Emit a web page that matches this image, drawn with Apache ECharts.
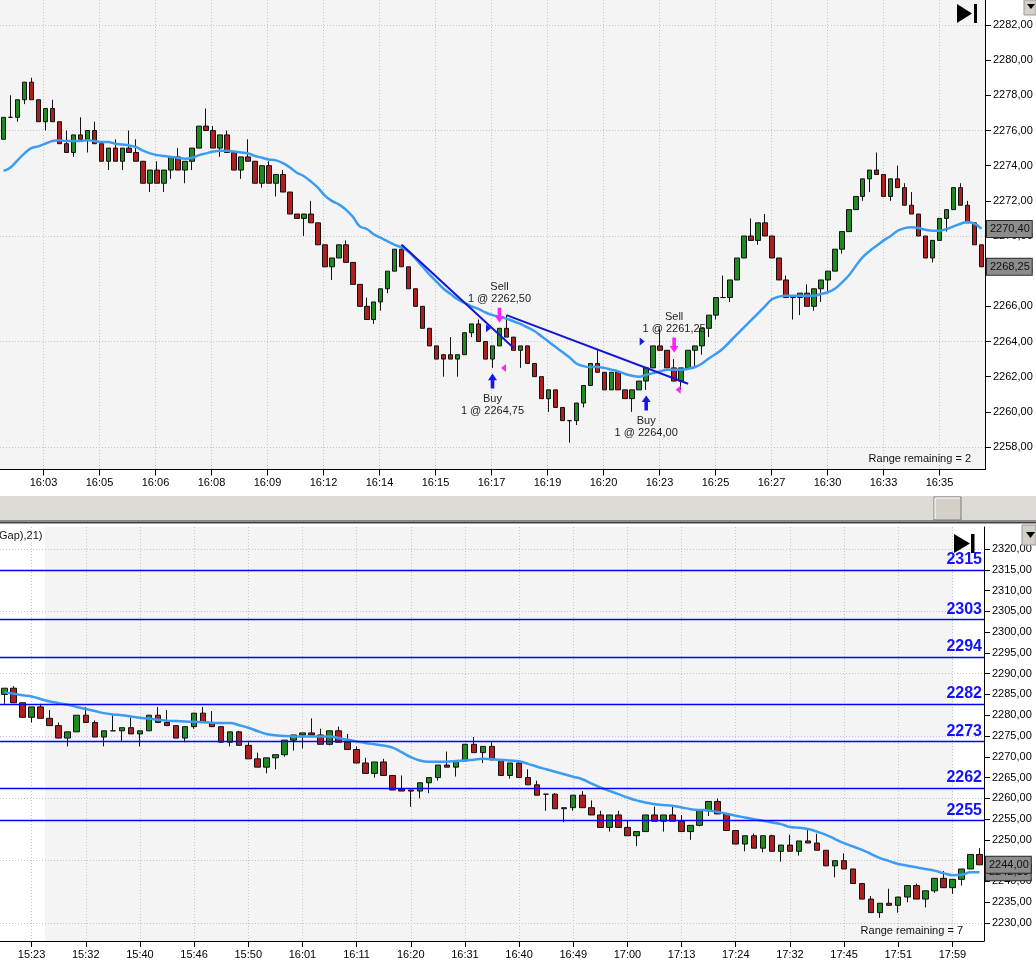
<!DOCTYPE html>
<html>
<head>
<meta charset="utf-8">
<script src="https://cdn.jsdelivr.net/npm/echarts@6/dist/echarts.min.js"></script>
<style>
  html, body { margin: 0; padding: 0; background: #fff; }
  #chart { width: 1036px; height: 965px; }
</style>
</head>
<body>
<div id="chart"></div>
<script>
// ---- upper chart: range bars, [open, close, low, high]
const topOHLC = [
  [2275.5,2276.75,2275.5,2276.75],[2276.75,2276.75,2276.75,2278],[2276.75,2277.75,2276.5,2277.75],[2277.75,2278.75,2277.5,2278.75],
  [2278.75,2277.75,2277.75,2279],[2277.75,2276.5,2276.5,2277.75],[2276.5,2277.25,2276,2277.25],[2277.25,2276.5,2276.5,2277.75],
  [2276.5,2275.25,2275.25,2276.5],[2275.25,2274.75,2274.75,2276],[2274.75,2275.75,2274.5,2275.75],[2275.75,2275.5,2275.5,2276.75],
  [2275.5,2276,2274.75,2276],[2276,2275.25,2275.25,2276.5],[2275.25,2274.25,2274.25,2275.25],[2274.25,2275,2273.75,2275],
  [2275,2274.25,2274.25,2275.5],[2274.25,2275,2273.75,2275],[2275,2274.75,2274.75,2276],[2274.75,2274.25,2274.25,2275.5],
  [2274.25,2273,2273,2274.25],[2273,2273.75,2272.5,2273.75],[2273.75,2273,2273,2274.25],[2273,2273.75,2272.5,2273.75],
  [2273.75,2274.5,2273.25,2274.5],[2274.5,2273.75,2273.75,2275],[2273.75,2274.25,2273,2274.25],[2274.25,2275,2273.75,2275],
  [2275,2276.25,2275,2276.25],[2276.25,2276,2276,2277.25],[2276,2275,2275,2276.25],[2275,2275.75,2274.5,2275.75],
  [2275.75,2274.75,2274.75,2276],[2274.75,2273.75,2273.75,2274.75],[2273.75,2274.5,2273.25,2274.5],[2274.5,2274.25,2274.25,2275.5],
  [2274.25,2273,2273,2274.25],[2273,2274,2272.75,2274],[2274,2273,2273,2274.25],[2273,2273.5,2272.25,2273.5],
  [2273.5,2272.5,2272.5,2273.75],[2272.5,2271.25,2271.25,2272.5],[2271.25,2271,2271,2271.25],[2271,2271.25,2270,2271.25],
  [2271.25,2270.75,2270.75,2272],[2270.75,2269.5,2269.5,2270.75],[2269.5,2268.25,2268.25,2269.5],[2268.25,2268.75,2267.5,2268.75],
  [2268.75,2269.5,2268.75,2269.5],[2269.5,2268.5,2268.5,2269.75],[2268.5,2267.25,2267.25,2268.5],[2267.25,2266,2266,2267.25],
  [2266,2265.25,2265.25,2266.5],[2265.25,2266.25,2265,2266.25],[2266.25,2267,2265.75,2267],[2267,2268,2266.75,2268],
  [2268,2269.25,2268,2269.25],[2269.25,2268.25,2268.25,2269.5],[2268.25,2267,2267,2268.25],[2267,2266,2266,2267],
  [2266,2264.75,2264.75,2266],[2264.75,2263.75,2263.75,2264.75],[2263.75,2263,2263,2263.75],[2263.25,2263,2262,2263.25],
  [2263.25,2263,2263,2264.25],[2263,2263.25,2262,2263.25],[2263.25,2264.5,2263.25,2264.5],[2264.5,2265,2264.25,2265],
  [2265,2264,2264,2265.25],[2264,2263,2263,2264],[2263,2263.75,2262.5,2263.75],[2263.75,2264.75,2263.75,2264.75],
  [2264.75,2264.25,2264.25,2265.5],[2264.25,2263.5,2263.5,2264.25],[2263.5,2263.75,2262.5,2263.75],[2263.75,2262.75,2262.75,2263.75],
  [2262.75,2262,2262,2262.75],[2262,2260.75,2260.75,2262],[2260.75,2261.25,2260,2261.25],[2261.25,2260.25,2260.25,2261.25],
  [2260.25,2259.5,2259.5,2260.25],[2259.5,2259.5,2258.25,2259.5],[2259.5,2260.5,2259.25,2260.5],[2260.5,2261.5,2260.25,2261.5],
  [2261.5,2262.75,2261.5,2262.75],[2262.75,2262.25,2262.25,2263.5],[2262.25,2261.25,2261.25,2262.25],[2261.25,2262.25,2261.25,2262.25],
  [2262.25,2261.25,2261.25,2262.25],[2261.25,2260.75,2260.75,2261.25],[2260.75,2261.25,2260,2261.25],[2261.25,2261.75,2261.25,2261.75],
  [2261.75,2262.5,2261.25,2262.5],[2262.5,2263.75,2262.5,2263.75],[2263.75,2263.5,2263.5,2264.75],[2263.5,2262.5,2262.5,2263.5],
  [2262.5,2261.75,2261.75,2263],[2261.75,2262.5,2261.25,2262.5],[2262.5,2263.5,2262.5,2263.5],[2263.5,2263.75,2262.5,2263.75],
  [2263.75,2264.75,2263.25,2264.75],[2264.75,2265.5,2264.25,2265.5],[2265.5,2266.5,2265.25,2266.5],[2266.5,2266.5,2266.5,2267.75],
  [2266.5,2267.5,2266.25,2267.5],[2267.5,2268.75,2267.5,2268.75],[2268.75,2270,2268.75,2270],[2270,2269.75,2269.75,2271],
  [2269.75,2270.75,2269.5,2270.75],[2270.75,2270,2270,2271.25],[2270,2268.75,2268.75,2270],[2268.75,2267.5,2267.5,2268.75],
  [2267.5,2266.5,2266.5,2267.75],[2266.5,2266.5,2265.25,2266.5],[2266.5,2266.75,2265.5,2266.75],[2266.75,2266,2266,2267.25],
  [2266,2267,2265.75,2267],[2267,2267.5,2266.25,2267.5],[2267.5,2268,2266.75,2268],[2268,2269.25,2268,2269.25],
  [2269.25,2270.25,2269,2270.25],[2270.25,2271.5,2270.25,2271.5],[2271.5,2272.25,2271.5,2272.25],[2272.25,2273.25,2272,2273.25],
  [2273.25,2273.75,2272.5,2273.75],[2273.75,2273.5,2273.5,2274.75],[2273.5,2272.25,2272.25,2273.5],[2272.25,2273.25,2272,2273.25],
  [2273.25,2272.75,2272.75,2274],[2272.75,2271.75,2271.75,2273],[2271.75,2271.25,2271.25,2272.5],[2271.25,2270,2270,2271.25],
  [2270,2268.75,2268.75,2270],[2268.75,2269.75,2268.5,2269.75],[2269.75,2271,2269.75,2271],[2271,2271.5,2270.25,2271.5],
  [2271.5,2272.75,2271.5,2272.75],[2272.75,2271.75,2271.75,2273],[2271.75,2270.75,2270.75,2272],[2270.75,2269.5,2269.5,2270.75],
  [2269.5,2268.25,2268.25,2269.5]
];
const topEma = [
  2273.7,2273.9,2274.3,2274.7,2275.0,2275.1,2275.25,2275.4,2275.45,2275.4,
  2275.4,2275.4,2275.45,2275.4,2275.35,2275.35,2275.25,2275.2,2275.15,2275.05,
  2274.85,2274.7,2274.6,2274.55,2274.5,2274.45,2274.4,2274.45,2274.6,2274.7,
  2274.8,2274.85,2274.85,2274.8,2274.75,2274.7,2274.55,2274.45,2274.35,2274.3,
  2274.15,2273.9,2273.6,2273.4,2273.1,2272.75,2272.3,2272.0,2271.8,2271.5,
  2271.1,2270.55,2270.4,2270.1,2269.9,2269.7,2269.5,2269.35,2269.1,2268.7,
  2268.25,2267.8,2267.4,2267.0,2266.7,2266.4,2266.2,2266.0,2265.85,2265.65,
  2265.5,2265.4,2265.3,2265.15,2265.0,2264.8,2264.6,2264.3,2264.0,2263.7,
  2263.4,2263.1,2262.75,2262.6,2262.55,2262.55,2262.5,2262.4,2262.3,2262.15,
  2262.05,2262.0,2262.1,2262.2,2262.3,2262.4,2262.4,2262.4,2262.45,2262.55,
  2262.75,2263.05,2263.3,2263.6,2264.0,2264.4,2264.8,2265.2,2265.6,2266.0,
  2266.4,2266.55,2266.6,2266.6,2266.6,2266.6,2266.6,2266.7,2266.8,2267.0,
  2267.35,2267.75,2268.3,2268.8,2269.15,2269.45,2269.75,2270.0,2270.3,2270.45,
  2270.5,2270.45,2270.35,2270.3,2270.3,2270.4,2270.55,2270.7,2270.8,2270.7,
  2270.4
];
const topTimeLabels = ['16:03','16:05','16:06','16:08','16:09','16:12','16:14','16:15','16:17',
  '16:19','16:20','16:23','16:25','16:27','16:30','16:33','16:35'];
const TOP_LABEL_START = 6, TOP_LABEL_STEP = 8;

// trend lines: [barIndex, price] pairs
const trendLines = [
  [[57, 2269.5], [73, 2263.65]],
  [[72, 2265.5], [98, 2261.6]]
];
// executions
const tradeSide  = ['Buy', 'Sell', 'Buy', 'Sell'];
const tradePrice = [2264.75, 2262.50, 2264.00, 2261.25];
const tradeBar   = [70, 71, 92, 96];
const tradeArrow = [2261.75, 2265.5, 2260.5, 2263.8];

// ---- lower chart
const botOHLC = [
  [2285,2286.5,2282.75,2286.5],[2286.5,2283,2283,2287],[2283,2279.5,2279.5,2283],[2279.5,2282,2278.25,2282],
  [2282,2279.25,2279.25,2282.75],[2279.25,2277.5,2277.5,2281.25],[2277.5,2274.5,2274.5,2278.25],[2274.5,2276,2272.5,2276],
  [2276,2280,2276,2280],[2280,2278.25,2278.25,2282],[2278.25,2274.75,2274.75,2278.75],[2274.75,2276.25,2272.5,2276.25],
  [2276.25,2276.25,2276.25,2280],[2276.25,2277,2273.5,2277],[2277,2275.5,2275.5,2279.5],[2275.5,2276.25,2272.5,2276.25],
  [2276.25,2280,2276.25,2280],[2280,2278.25,2278.25,2282],[2278.25,2277.5,2277.5,2281.25],[2277.5,2274.5,2274.5,2277.5],
  [2274.5,2277.25,2273.5,2277.25],[2277.25,2280.5,2276.75,2280.5],[2280.5,2278.25,2278.25,2282],[2278.25,2277.25,2277.25,2281],
  [2277.25,2273.5,2273.5,2277.25],[2273.5,2276,2272.5,2276],[2276,2272.75,2272.75,2276.25],[2272.75,2269.5,2269.5,2273.5],
  [2269.5,2267.5,2267.5,2271],[2267.5,2269.75,2266,2269.75],[2269.75,2270.5,2267,2270.5],[2270.5,2274,2270,2274],
  [2274,2275.25,2271.5,2275.25],[2275.25,2275.75,2272,2275.75],[2275.75,2275.25,2275.25,2279.25],[2275.25,2273,2273,2276.75],
  [2273,2276.25,2272.75,2276.25],[2276.25,2273.5,2273.5,2277.25],[2273.5,2271.75,2271.75,2275.5],[2271.75,2268.5,2268.5,2272.5],
  [2268.5,2266,2266,2269.75],[2266,2268.75,2265,2268.75],[2268.75,2265.5,2265.5,2269.5],[2265.5,2262,2262,2265.5],
  [2262.25,2261.75,2261.75,2265.5],[2262,2261.75,2258,2262],[2261.75,2263.75,2260,2263.75],[2263.75,2265,2261.25,2265],
  [2265,2268,2264.25,2268],[2268,2267.5,2267.5,2271.25],[2267.5,2269,2265.25,2269],[2269,2273,2269,2273],
  [2273,2271,2271,2274.75],[2271,2272.5,2268.5,2272.5],[2272.5,2269.25,2269.25,2273.5],[2269.25,2265.5,2265.5,2269.25],
  [2265.5,2268.5,2264.75,2268.5],[2268.5,2265,2265,2269],[2265,2263.25,2263.25,2267],[2263.25,2260.75,2260.75,2264.25],
  [2261,2261,2257,2261],[2261,2257.5,2257.5,2261.25],[2257.5,2257.75,2254.25,2257.75],[2257.75,2260.75,2257,2260.75],
  [2260.75,2257.75,2257.75,2261.75],[2257.75,2256,2256,2259.5],[2256,2253,2253,2257],[2253,2256,2252,2256],
  [2256,2253,2253,2257],[2253,2251,2251,2254.75],[2251,2252,2248.5,2252],[2252,2256,2252,2256],
  [2256,2254.5,2254.5,2258],[2254.5,2256,2252,2256],[2256,2254.5,2254.5,2258],[2254.5,2252,2252,2256],
  [2252,2253.5,2250,2253.5],[2253.5,2257,2253.25,2257],[2257,2259.25,2255.75,2259.25],[2259.25,2256.25,2256.25,2260],
  [2256.25,2252.25,2252.25,2256.25],[2252.25,2249,2249,2252.25],[2249,2251,2247.25,2251],[2251,2248,2248,2251.5],
  [2248,2251,2247,2251],[2251,2247.25,2247.25,2251.25],[2247.25,2248.75,2244.75,2248.75],[2248.75,2247.25,2247.25,2251.25],
  [2247.25,2249.75,2246.25,2249.75],[2249.75,2249.25,2249.25,2252.75],[2249.25,2247.5,2247.5,2251.5],[2247.5,2243.75,2243.75,2247.5],
  [2243.75,2245,2241,2245],[2245,2243,2243,2246.75],[2243,2239.5,2239.5,2243],[2239.5,2235.75,2235.75,2239.5],
  [2235.75,2232.5,2232.5,2236.5],[2232.5,2234.75,2231.25,2234.75],[2234.75,2234.25,2234.25,2238.25],[2234.25,2236.25,2232.5,2236.25],
  [2236.25,2239,2235,2239],[2239,2235.75,2235.75,2239.5],[2235.75,2237.75,2233.75,2237.75],[2237.75,2240.75,2237.25,2240.75],
  [2240.75,2238.5,2238.5,2242.5],[2238.5,2240.5,2237,2240.5],[2240.5,2243,2239,2243],[2243,2246.5,2243,2246.5],
  [2246.5,2244,2244,2248]
];
const botEma = [
  2285.5,2285.2,2284.8,2284.5,2283.9,2283.3,2282.9,2282.5,2282.0,2281.5,
  2281.0,2280.5,2280.2,2280.0,2279.7,2279.4,2279.2,2278.9,2278.7,2278.6,
  2278.5,2278.4,2278.3,2278.2,2278.1,2278.1,2277.6,2277.0,2276.2,2275.5,
  2275.2,2275.0,2274.9,2274.9,2274.9,2274.9,2274.9,2274.5,2274.1,2273.7,
  2273.3,2273.0,2272.7,2272.2,2271.1,2269.9,2269.1,2268.8,2268.8,2268.8,
  2269.0,2269.1,2269.3,2269.5,2269.4,2269.3,2269.1,2268.9,2268.3,2267.6,
  2267.0,2266.4,2265.8,2265.2,2264.6,2263.6,2262.6,2261.8,2261.0,2260.2,
  2259.5,2259.0,2258.6,2258.4,2258.2,2257.8,2257.4,2257.2,2257.1,2256.7,
  2256.3,2255.8,2255.4,2255.0,2254.6,2254.2,2253.8,2253.1,2252.9,2252.6,
  2252.0,2251.2,2250.2,2249.2,2248.4,2247.6,2246.6,2245.6,2244.9,2244.2,
  2243.8,2243.4,2243.0,2242.6,2242.0,2241.5,2241.6,2242.2,2242.19
];
const botTimeLabels = ['15:23','15:32','15:40','15:46','15:50','16:01','16:11','16:20','16:31',
  '16:40','16:49','17:00','17:13','17:24','17:32','17:45','17:51','17:59'];
const BOT_LABEL_START = 3, BOT_LABEL_STEP = 6;

const levelValues = [2315, 2303, 2294, 2282.75, 2273.75, 2262.5, 2254.75];
const levelLabels = ['2315', '2303', '2294', '2282', '2273', '2262', '2255'];

// ---------------------------------------------------------------
const FONT = "'Liberation Sans', Arial, sans-serif";
const EMA_COLOR = '#3b9cf2';
const fmt = v => v.toFixed(2).replace('.', ',');

const topCats = topOHLC.map((d, i) => String(i));
const botCats = botOHLC.map((d, i) => String(i));
const showTop = i => i >= TOP_LABEL_START && (i - TOP_LABEL_START) % TOP_LABEL_STEP === 0;
const showBot = i => i >= BOT_LABEL_START && (i - BOT_LABEL_START) % BOT_LABEL_STEP === 0;

const dotted = { show: true, lineStyle: { color: '#c6c6c6', type: [1, 2], width: 1 } };
const black = { color: '#000', width: 1 };

const candleStyle = {
  color: '#1f8a22', color0: '#b01f1f',
  borderColor: '#111', borderColor0: '#111', borderWidth: 1
};

// price tags on the right axis (drawn as labels of invisible lines)
function tag(value) {
  return {
    yAxis: value,
    lineStyle: { color: 'rgba(0,0,0,0)', width: 1 },
    label: {
      show: true, position: 'end', distance: 2, formatter: fmt(value),
      backgroundColor: '#8c8c8c', borderColor: '#2a2a2a', borderWidth: 1,
      padding: [3, 2, 2, 3], color: '#111', fontSize: 11, fontFamily: FONT
    }
  };
}

const UP_ARROW = 'path://M5,0 L10,7 L7,7 L7,16 L3,16 L3,7 L0,7 Z';
const DOWN_ARROW = 'path://M3,0 L7,0 L7,9 L10,9 L5,16 L0,9 L3,9 Z';
const BLUE = '#1616f0';
const PINK = '#ff22ff';

const tradeMarks = [];
tradeSide.forEach((side, k) => {
  const buy = side === 'Buy';
  tradeMarks.push({
    coord: [tradeBar[k], tradeArrow[k]],
    symbol: buy ? UP_ARROW : DOWN_ARROW,
    symbolSize: [9, 15],
    itemStyle: { color: buy ? BLUE : PINK },
    label: {
      show: true, position: buy ? 'bottom' : 'top', distance: buy ? 4 : 3,
      formatter: side + '\n1 @ ' + fmt(tradePrice[k]),
      color: '#222', fontSize: 11, lineHeight: 12, fontFamily: FONT, align: 'center'
    }
  });
  tradeMarks.push({
    coord: [tradeBar[k], tradePrice[k]],
    symbol: 'triangle',
    symbolSize: [8, 5],
    symbolRotate: buy ? -90 : 90,
    symbolOffset: [buy ? -4 : 4, 0],
    itemStyle: { color: buy ? BLUE : PINK },
    label: { show: false }
  });
});

const chart = echarts.init(document.getElementById('chart'), null, { renderer: 'canvas' });

const option = {
  animation: false,
  textStyle: { fontFamily: FONT },
  grid: [
    { left: -2, right: 51, top: 25, height: 422 },                                   // 0 top candles
    { left: -2, right: 51, top: 0, height: 469.5, show: true, backgroundColor: '#f4f4f4', borderWidth: 0, z: -1 }, // 1 top frame
    { left: 1.5, right: 54.5, top: 0, height: 469.5 },                               // 2 top time ticks
    { left: 0, right: 52, top: 549, height: 374 },                                   // 3 bottom candles
    { left: 0, right: 52, top: 527, height: 414 },                                   // 4 bottom frame
    { left: 4.514, right: 56.514, top: 527, height: 414 },                           // 5 bottom time ticks
    { left: 45, width: 908, top: 527, height: 414, show: true, backgroundColor: '#f4f4f4', borderWidth: 0, z: -1 } // 6 session shade
  ],
  xAxis: [
    { gridIndex: 0, type: 'category', data: topCats, show: false },
    { gridIndex: 1, type: 'category', data: topCats, axisLine: { lineStyle: black },
      axisTick: { show: false }, axisLabel: { show: false }, splitLine: { show: false } },
    { gridIndex: 2, type: 'category', data: topCats, boundaryGap: false, axisLine: { show: false },
      axisTick: { show: true, interval: showTop, length: 6, lineStyle: black },
      axisLabel: { interval: showTop, margin: 8, color: '#000', fontSize: 11,
        formatter: (v, i) => topTimeLabels[(i - TOP_LABEL_START) / TOP_LABEL_STEP] || '' },
      splitLine: Object.assign({ interval: showTop }, dotted) },
    { gridIndex: 3, type: 'category', data: botCats, show: false },
    { gridIndex: 4, type: 'category', data: botCats, axisLine: { lineStyle: black },
      axisTick: { show: false }, axisLabel: { show: false }, splitLine: { show: false } },
    { gridIndex: 5, type: 'category', data: botCats, boundaryGap: false, axisLine: { show: false },
      axisTick: { show: true, interval: showBot, length: 6, lineStyle: black },
      axisLabel: { interval: showBot, margin: 8, color: '#000', fontSize: 11,
        formatter: (v, i) => botTimeLabels[(i - BOT_LABEL_START) / BOT_LABEL_STEP] || '' },
      splitLine: Object.assign({ interval: showBot }, dotted) },
    { gridIndex: 6, type: 'value', min: 0, max: 1, show: false }
  ],
  yAxis: [
    { gridIndex: 0, type: 'value', position: 'right', min: 2258, max: 2282, interval: 2,
      axisLine: { show: false }, axisTick: { show: true, length: 6, lineStyle: black },
      axisLabel: { margin: 8, color: '#000', fontSize: 11, formatter: fmt }, splitLine: { show: false } },
    { gridIndex: 0, type: 'value', position: 'right', min: 2258, max: 2282, interval: 6,
      axisLine: { show: false }, axisTick: { show: false }, axisLabel: { show: false }, splitLine: dotted },
    { gridIndex: 1, type: 'value', position: 'right', min: 0, max: 1,
      axisLine: { show: true, lineStyle: black }, axisTick: { show: false }, axisLabel: { show: false }, splitLine: { show: false } },
    { gridIndex: 2, type: 'value', min: 0, max: 1, show: false },
    { gridIndex: 3, type: 'value', position: 'right', min: 2230, max: 2320, interval: 5,
      axisLine: { show: false }, axisTick: { show: true, length: 6, lineStyle: black },
      axisLabel: { margin: 8, color: '#000', fontSize: 11, formatter: fmt }, splitLine: { show: false } },
    { gridIndex: 3, type: 'value', position: 'right', min: 2230, max: 2320, interval: 15,
      axisLine: { show: false }, axisTick: { show: false }, axisLabel: { show: false }, splitLine: dotted },
    { gridIndex: 4, type: 'value', position: 'right', min: 0, max: 1,
      axisLine: { show: true, lineStyle: black }, axisTick: { show: false }, axisLabel: { show: false }, splitLine: { show: false } },
    { gridIndex: 5, type: 'value', min: 0, max: 1, show: false },
    { gridIndex: 6, type: 'value', min: 0, max: 1, show: false }
  ],
  series: [
    { type: 'candlestick', xAxisIndex: 0, yAxisIndex: 0, data: topOHLC, barWidth: 5, itemStyle: candleStyle },
    { type: 'line', xAxisIndex: 0, yAxisIndex: 0, data: topEma, symbol: 'none', smooth: 0.4,
      lineStyle: { color: EMA_COLOR, width: 2.5 },
      markLine: {
        silent: true, symbol: ['none', 'none'],
        data: [
          ...trendLines.map(l => [
            { coord: l[0], lineStyle: { color: '#1515d6', width: 2, type: 'solid' }, label: { show: false } },
            { coord: l[1] }
          ]),
          tag(topEma[topEma.length - 1]),
          tag(topOHLC[topOHLC.length - 1][1])
        ]
      },
      markPoint: { silent: true, data: tradeMarks }
    },
    { type: 'candlestick', xAxisIndex: 3, yAxisIndex: 4, data: botOHLC, barWidth: 6, itemStyle: candleStyle,
      markLine: {
        silent: true, symbol: ['none', 'none'],
        lineStyle: { color: '#0000ff', width: 1.3, type: 'solid' },
        label: { show: true, position: 'insideEndTop', distance: 2, color: '#1212ff',
          fontWeight: 'bold', fontSize: 16, fontFamily: FONT },
        data: levelValues.map((v, k) => ({ yAxis: v, label: { formatter: levelLabels[k] } }))
      }
    },
    { type: 'line', xAxisIndex: 3, yAxisIndex: 4, data: botEma, symbol: 'none', smooth: 0.4,
      lineStyle: { color: EMA_COLOR, width: 2.5 },
      markLine: {
        silent: true, symbol: ['none', 'none'],
        data: [ tag(botEma[botEma.length - 1]), tag(botOHLC[botOHLC.length - 1][1]) ]
      }
    }
  ],
  graphic: [
    // scroll strip between the panels
    { type: 'rect', shape: { x: 0, y: 496, width: 1036, height: 24 }, style: { fill: '#dddbd6' }, z: 5 },
    { type: 'rect', shape: { x: 0, y: 520, width: 1036, height: 2 }, style: { fill: '#8a8a8a' }, z: 5 },
    { type: 'rect', shape: { x: 0, y: 522, width: 1036, height: 1.5 }, style: { fill: '#444' }, z: 5 },
    { type: 'rect', shape: { x: 934, y: 497, width: 27, height: 23 },
      style: { fill: '#d4d0c8', stroke: '#7a7a7a', lineWidth: 1 }, z: 6 },
    { type: 'polyline', shape: { points: [[935, 519], [935, 498], [960, 498]] },
      style: { stroke: '#fff', lineWidth: 1 }, z: 7 },
    // corner buttons
    { type: 'rect', shape: { x: 1024, y: 0, width: 12, height: 15 }, style: { fill: '#d4d0c8', stroke: '#999' }, z: 6 },
    { type: 'polygon', shape: { points: [[1027, 4], [1035, 4], [1031, 9]] }, style: { fill: '#000' }, z: 7 },
    { type: 'rect', shape: { x: 1022, y: 525, width: 14, height: 20 }, style: { fill: '#d4d0c8', stroke: '#999' }, z: 6 },
    { type: 'polygon', shape: { points: [[1026, 532], [1035, 532], [1030.5, 538]] }, style: { fill: '#000' }, z: 7 },
    // "go to end" icons
    { type: 'polygon', shape: { points: [[957, 4], [972, 13.5], [957, 23]] }, style: { fill: '#000' }, z: 8 },
    { type: 'rect', shape: { x: 974, y: 4, width: 3, height: 19 }, style: { fill: '#000' }, z: 8 },
    { type: 'polygon', shape: { points: [[954, 534], [970, 543.5], [954, 553]] }, style: { fill: '#000' }, z: 8 },
    { type: 'rect', shape: { x: 971, y: 534, width: 3.5, height: 19 }, style: { fill: '#000' }, z: 8 },
    // texts
    { type: 'text', x: 971, y: 459, z: 8,
      style: { text: 'Range remaining = 2', font: '11px ' + FONT, fill: '#111', textAlign: 'right', textVerticalAlign: 'middle' } },
    { type: 'text', x: 963, y: 931, z: 8,
      style: { text: 'Range remaining = 7', font: '11px ' + FONT, fill: '#111', textAlign: 'right', textVerticalAlign: 'middle' } },
    { type: 'text', x: -1, y: 536, z: 8,
      style: { text: 'Gap),21)', font: '11px ' + FONT, fill: '#111', textAlign: 'left', textVerticalAlign: 'middle' } }
  ]
};

chart.setOption(option);
</script>
</body>
</html>
